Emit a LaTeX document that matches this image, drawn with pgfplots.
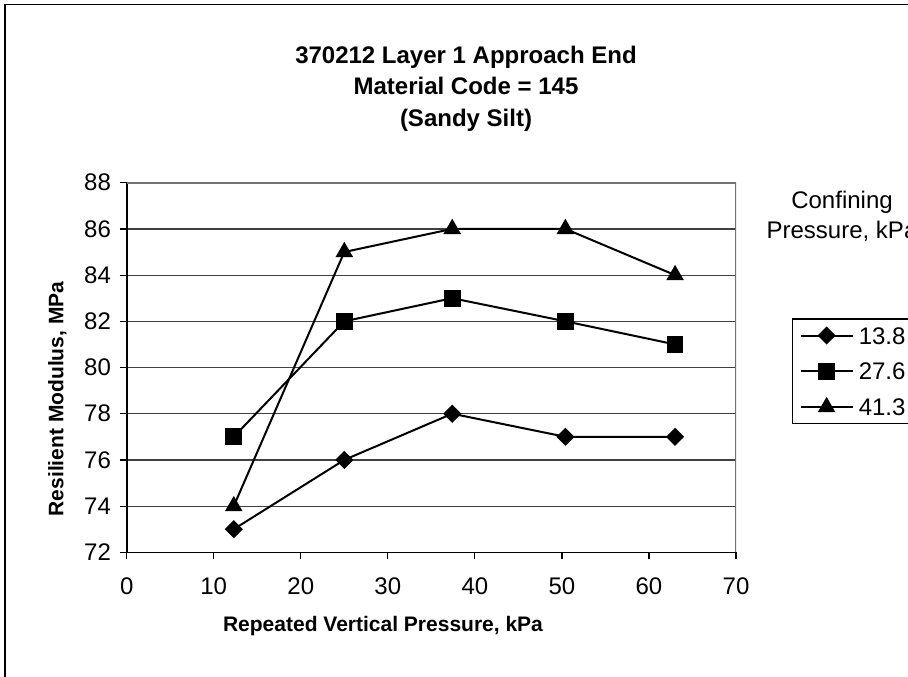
\documentclass[border=0pt]{standalone}
\usepackage{pgfplots}
\pgfplotsset{compat=1.18}
\usepackage{fontspec}
\setmainfont{Liberation Sans}

\begin{document}
\begin{tikzpicture}
\path[use as bounding box, clip] (0,0) rectangle (454pt,338pt);
\fill[white] (0,0) rectangle (454pt,338pt);
\draw[line width=0.7pt] (2.5pt,-5pt) -- (2.5pt,335.75pt) -- (460pt,335.75pt);
\begin{axis}[
  at={(63.35pt,61.85pt)}, anchor=south west,
  scale only axis, width=304.65pt, height=184.8pt,
  xmin=0, xmax=70, ymin=72, ymax=88,
  xtick={0,10,...,70}, ytick={72,74,...,88},
  axis x line*=bottom, axis y line*=left,
  axis line style={black, line width=0.8pt, -},
  tick align=outside, major tick length=3.5pt,
  tick style={black, line width=0.6pt},
  ymajorgrids, grid style={black!75, line width=0.6pt},
  ticklabel style={font=\fontsize{12}{14}\selectfont},
  /pgf/number format/assume math mode=true,
  xticklabel style={yshift=-5.5pt},
  yticklabel style={xshift=-0.85pt},
  legend style={at={(1.0914,0.6331)}, anchor=north west, draw=black, line width=0.6pt,
    inner xsep=3.65pt, inner ysep=0pt, row sep=1.3pt, font=\fontsize{12}{14}\selectfont,
    nodes={inner xsep=2.6pt, inner ysep=0pt, text height=12.6pt, text depth=4.0pt}},
  legend cell align=left,
  legend image code/.code={\draw[mark repeat=2,mark phase=2,#1] plot coordinates {(0pt,0pt) (13pt,0pt) (26pt,0pt)};},
  every axis plot/.append style={black, line width=1pt, mark options={solid, fill=black}},
]
\addplot[mark=square*, mark size=2.7pt, mark options={rotate=45}] coordinates {
(12.3,73) (25.0,76) (37.4,78) (50.4,77) (63.0,77)};
\addlegendentry{13.8}
\addplot[mark=square*, mark size=3.7pt] coordinates {
(12.3,77) (25.0,82) (37.4,83) (50.4,82) (63.0,81)};
\addlegendentry{27.6}
\addplot[mark=triangle*, mark size=4.1pt] coordinates {
(12.3,74) (25.0,85) (37.4,86) (50.4,86) (63.0,84)};
\addlegendentry{41.3}
\draw[black!55, line width=0.8pt] (rel axis cs:0,1) -- (rel axis cs:1,1) -- (rel axis cs:1,0);
\end{axis}
\node[font=\fontsize{12}{14}\selectfont\bfseries, anchor=base] at (233pt,306.35pt) {370212 Layer 1 Approach End};
\node[font=\fontsize{12}{14}\selectfont\bfseries, anchor=base] at (233pt,290.5pt) {Material Code = 145};
\node[font=\fontsize{12}{14}\selectfont\bfseries, anchor=base] at (233pt,274.65pt) {(Sandy Silt)};
\node[font=\fontsize{10.5}{12}\selectfont\bfseries, anchor=base] at (191.5pt,22.15pt) {Repeated Vertical Pressure, kPa};
\node[font=\fontsize{10.5}{12}\selectfont\bfseries, anchor=base, rotate=90] at (31.65pt,138.5pt) {Resilient Modulus, MPa};
\node[font=\fontsize{12}{14}\selectfont, anchor=base] at (421pt,233.85pt) {Confining};
\node[font=\fontsize{12}{14}\selectfont, anchor=base] at (421pt,218.85pt) {Pressure, kPa};
\end{tikzpicture}
\end{document}
